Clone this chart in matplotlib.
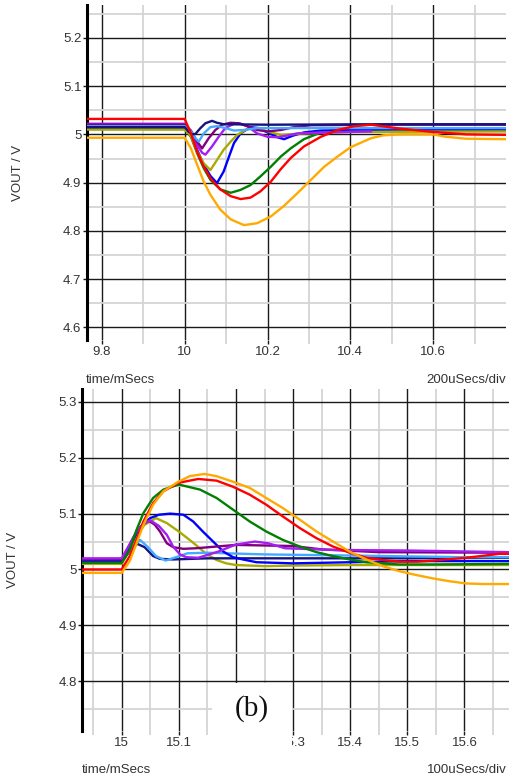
import matplotlib
matplotlib.use("Agg")
import matplotlib.pyplot as plt
from matplotlib.patches import Rectangle
from matplotlib.ticker import MultipleLocator, FormatStrFormatter

# ---------------- panel (a): load step, 9.764 .. 10.776 ms ----------------
a_navy_t = [9.764, 10.0, 10.009, 10.018, 10.026, 10.038, 10.05, 10.066, 10.078, 10.094, 10.2, 10.5, 10.776]
a_navy_v = [5.015, 5.015, 5.006, 5.000, 5.001, 5.013, 5.023, 5.028, 5.024, 5.021, 5.020, 5.021, 5.021]

a_lblue_t = [9.764, 10.0, 10.015, 10.026, 10.034, 10.046, 10.062, 10.078, 10.098, 10.119, 10.143, 10.175, 10.4, 10.776]
a_lblue_v = [5.017, 5.017, 5.006, 4.992, 4.985, 5.002, 5.015, 5.017, 5.013, 5.008, 5.009, 5.013, 5.013, 5.013]

a_purple_t = [9.764, 10.0, 10.015, 10.03, 10.042, 10.058, 10.074, 10.09, 10.111, 10.131, 10.151, 10.175, 10.2, 10.232, 10.264, 10.305, 10.5, 10.776]
a_purple_v = [5.020, 5.020, 5.008, 4.985, 4.971, 4.992, 5.009, 5.020, 5.024, 5.023, 5.017, 5.009, 5.006, 5.009, 5.015, 5.019, 5.020, 5.020]

a_violet_t = [9.764, 10.0, 10.015, 10.03, 10.042, 10.05, 10.066, 10.082, 10.098, 10.119, 10.135, 10.151, 10.175, 10.2, 10.224, 10.244, 10.272, 10.35, 10.45]
a_violet_v = [5.022, 5.022, 5.002, 4.978, 4.962, 4.958, 4.975, 4.995, 5.013, 5.022, 5.022, 5.017, 5.002, 4.995, 4.994, 4.997, 5.002, 5.004, 5.006]

a_olive_t = [9.764, 10.0, 10.015, 10.03, 10.046, 10.062, 10.078, 10.094, 10.111, 10.127, 10.151, 10.175, 10.2, 10.232, 10.256, 10.288, 10.4, 10.776]
a_olive_v = [5.010, 5.010, 4.997, 4.964, 4.940, 4.926, 4.947, 4.968, 4.985, 4.999, 5.011, 5.013, 5.006, 4.999, 5.000, 5.002, 5.005, 5.006]

a_blue_t = [9.764, 10.0, 10.015, 10.03, 10.046, 10.062, 10.078, 10.094, 10.107, 10.119, 10.135, 10.159, 10.179, 10.2, 10.224, 10.24, 10.26, 10.288, 10.329, 10.5, 10.776]
a_blue_v = [5.014, 5.014, 5.000, 4.968, 4.937, 4.914, 4.899, 4.923, 4.954, 4.982, 5.002, 5.015, 5.013, 5.004, 4.994, 4.990, 4.997, 5.004, 5.008, 5.010, 5.010]

a_green_t = [9.764, 10.0, 10.015, 10.03, 10.046, 10.062, 10.086, 10.111, 10.135, 10.159, 10.183, 10.208, 10.232, 10.256, 10.288, 10.329, 10.369, 10.45, 10.776]
a_green_v = [5.011, 5.011, 4.995, 4.961, 4.930, 4.906, 4.886, 4.879, 4.885, 4.895, 4.913, 4.933, 4.954, 4.971, 4.990, 5.004, 5.009, 5.010, 5.010]

a_red_t = [9.764, 10.0, 10.015, 10.03, 10.046, 10.062, 10.086, 10.111, 10.135, 10.159, 10.183, 10.208, 10.232, 10.256, 10.288, 10.329, 10.369, 10.41, 10.45, 10.52, 10.6, 10.68, 10.776]
a_red_v = [5.032, 5.032, 5.002, 4.964, 4.933, 4.909, 4.886, 4.872, 4.866, 4.869, 4.882, 4.902, 4.928, 4.951, 4.975, 4.995, 5.009, 5.017, 5.020, 5.012, 5.005, 5.000, 4.999]

a_orange_t = [9.764, 10.0, 10.015, 10.03, 10.046, 10.062, 10.086, 10.111, 10.143, 10.175, 10.208, 10.24, 10.272, 10.305, 10.337, 10.369, 10.4, 10.434, 10.45, 10.48, 10.52, 10.6, 10.63, 10.68, 10.776]
a_orange_v = [4.993, 4.993, 4.971, 4.937, 4.902, 4.875, 4.844, 4.824, 4.812, 4.816, 4.830, 4.852, 4.878, 4.906, 4.933, 4.954, 4.973, 4.986, 4.992, 4.998, 5.000, 5.000, 4.995, 4.991, 4.990]

# ---------------- panel (b): load release, 14.931 .. 15.678 ms ----------------
b_navy_t = [14.931, 15.0, 15.012, 15.027, 15.04, 15.055, 15.067, 15.09, 15.15, 15.3, 15.5, 15.678]
b_navy_v = [5.015, 5.015, 5.030, 5.046, 5.040, 5.024, 5.019, 5.018, 5.020, 5.020, 5.020, 5.021]

b_lblue_t = [14.931, 15.0, 15.015, 15.032, 15.045, 15.06, 15.077, 15.095, 15.115, 15.15, 15.25, 15.4, 15.6, 15.678]
b_lblue_v = [5.016, 5.016, 5.035, 5.053, 5.041, 5.024, 5.016, 5.022, 5.029, 5.030, 5.027, 5.025, 5.022, 5.022]

b_purple_t = [14.931, 15.0, 15.014, 15.026, 15.038, 15.048, 15.058, 15.067, 15.079, 15.09, 15.108, 15.13, 15.2, 15.3, 15.35, 15.45, 15.678]
b_purple_v = [5.018, 5.018, 5.045, 5.068, 5.082, 5.087, 5.080, 5.068, 5.047, 5.040, 5.037, 5.038, 5.044, 5.042, 5.036, 5.031, 5.030]

b_violet_t = [14.931, 15.0, 15.014, 15.026, 15.038, 15.05, 15.065, 15.079, 15.09, 15.102, 15.113, 15.134, 15.169, 15.198, 15.233, 15.256, 15.286, 15.315, 15.373, 15.5, 15.678]
b_violet_v = [5.020, 5.020, 5.045, 5.068, 5.082, 5.088, 5.078, 5.062, 5.041, 5.027, 5.022, 5.021, 5.032, 5.044, 5.050, 5.047, 5.038, 5.037, 5.035, 5.034, 5.031]

b_olive_t = [14.931, 15.0, 15.014, 15.026, 15.04, 15.06, 15.079, 15.1, 15.125, 15.148, 15.166, 15.183, 15.2, 15.25, 15.3, 15.4, 15.678]
b_olive_v = [5.010, 5.010, 5.035, 5.060, 5.080, 5.092, 5.083, 5.068, 5.048, 5.028, 5.017, 5.011, 5.008, 5.006, 5.007, 5.008, 5.008]

b_blue_t = [14.931, 15.0, 15.014, 15.026, 15.038, 15.05, 15.065, 15.085, 15.108, 15.125, 15.142, 15.16, 15.178, 15.195, 15.212, 15.236, 15.3, 15.4, 15.5, 15.678]
b_blue_v = [5.015, 5.015, 5.040, 5.065, 5.082, 5.092, 5.098, 5.100, 5.098, 5.086, 5.068, 5.050, 5.032, 5.022, 5.018, 5.013, 5.011, 5.013, 5.015, 5.015]

b_green_t = [14.931, 15.0, 15.014, 15.026, 15.038, 15.055, 15.073, 15.1, 15.137, 15.166, 15.195, 15.224, 15.253, 15.282, 15.312, 15.341, 15.37, 15.399, 15.428, 15.486, 15.545, 15.678]
b_green_v = [5.012, 5.012, 5.035, 5.071, 5.101, 5.128, 5.143, 5.152, 5.143, 5.128, 5.107, 5.086, 5.068, 5.053, 5.041, 5.031, 5.024, 5.018, 5.013, 5.009, 5.009, 5.010]

b_red_t = [14.931, 15.0, 15.014, 15.026, 15.038, 15.055, 15.073, 15.099, 15.134, 15.166, 15.195, 15.224, 15.253, 15.282, 15.312, 15.341, 15.37, 15.399, 15.428, 15.457, 15.486, 15.516, 15.545, 15.603, 15.661, 15.678]
b_red_v = [5.000, 5.000, 5.024, 5.053, 5.086, 5.119, 5.140, 5.155, 5.162, 5.159, 5.148, 5.134, 5.116, 5.095, 5.074, 5.056, 5.041, 5.030, 5.021, 5.017, 5.014, 5.014, 5.016, 5.021, 5.028, 5.028]

b_orange_t = [14.931, 15.0, 15.014, 15.026, 15.038, 15.055, 15.073, 15.099, 15.119, 15.145, 15.166, 15.195, 15.224, 15.253, 15.282, 15.312, 15.341, 15.37, 15.399, 15.428, 15.457, 15.486, 15.516, 15.545, 15.574, 15.603, 15.632, 15.678]
b_orange_v = [4.994, 4.994, 5.015, 5.047, 5.080, 5.116, 5.140, 5.157, 5.167, 5.171, 5.167, 5.157, 5.146, 5.128, 5.110, 5.089, 5.068, 5.050, 5.032, 5.018, 5.006, 4.997, 4.990, 4.984, 4.979, 4.975, 4.974, 4.974]

colors = {
    "navy": "#14147e", "lblue": "#45aaff", "purple": "#800080", "violet": "#a41ef0",
    "olive": "#aaaa00", "blue": "#0000ff", "green": "#008000", "red": "#ff0000",
    "orange": "#ffaa00",
}

top_series = [
    ("green", a_green_t, a_green_v), ("blue", a_blue_t, a_blue_v),
    ("olive", a_olive_t, a_olive_v), ("violet", a_violet_t, a_violet_v),
    ("purple", a_purple_t, a_purple_v), ("lblue", a_lblue_t, a_lblue_v),
    ("navy", a_navy_t, a_navy_v), ("orange", a_orange_t, a_orange_v),
    ("red", a_red_t, a_red_v),
]
bot_series = [
    ("olive", b_olive_t, b_olive_v), ("navy", b_navy_t, b_navy_v),
    ("lblue", b_lblue_t, b_lblue_v), ("blue", b_blue_t, b_blue_v),
    ("purple", b_purple_t, b_purple_v), ("violet", b_violet_t, b_violet_v),
    ("green", b_green_t, b_green_v), ("red", b_red_t, b_red_v),
    ("orange", b_orange_t, b_orange_v),
]

W, H = 509, 781
plt.rcParams['font.family'] = ['Liberation Sans', 'DejaVu Sans']
fig = plt.figure(figsize=(W / 100, H / 100), dpi=100)
fig.patch.set_facecolor("white")

def px_rect(l, t, r, b):
    return [l / W, 1 - b / H, (r - l) / W, (b - t) / H]

TXT = "#333333"

def style(ax, xlim, ylim, xmaj, xmin, ymaj, ymin):
    ax.set_xlim(*xlim)
    ax.set_ylim(*ylim)
    ax.xaxis.set_major_locator(MultipleLocator(xmaj))
    ax.xaxis.set_minor_locator(MultipleLocator(xmin))
    ax.yaxis.set_major_locator(MultipleLocator(ymaj))
    ax.yaxis.set_minor_locator(MultipleLocator(ymin))
    ax.xaxis.set_major_formatter(FormatStrFormatter('%g'))
    ax.yaxis.set_major_formatter(FormatStrFormatter('%g'))
    ax.grid(True, which='minor', color='#d4d4d4', lw=1.3, zorder=0)
    ax.grid(True, which='major', color='#1a1a1a', lw=1.0, zorder=0.5)
    ax.set_axisbelow(True)
    for s in ('top', 'right', 'bottom'):
        ax.spines[s].set_visible(False)
    ax.spines['left'].set_linewidth(2.2)
    ax.spines['left'].set_color('black')
    ax.tick_params(which='major', length=3, width=1.0, color='#1a1a1a',
                   labelsize=9.5, labelcolor=TXT, pad=1)
    ax.tick_params(which='minor', length=3, width=1.3, color='#d4d4d4')
    ax.tick_params(axis='y', which='minor', length=0)

# top panel
ax1 = fig.add_axes(px_rect(87, 5, 506, 340))
for name, t, v in top_series:
    ax1.plot(t, v, color=colors[name], lw=1.7, zorder=3, solid_joinstyle='round')
style(ax1, (9.764, 10.776), (4.574, 5.268), 0.2, 0.1, 0.1, 0.05)

# bottom panel
ax2 = fig.add_axes(px_rect(82.3, 389, 509, 731))
for name, t, v in bot_series:
    ax2.plot(t, v, color=colors[name], lw=1.7, zorder=3, solid_joinstyle='round')
style(ax2, (14.931, 15.678), (4.711, 5.323), 0.1, 0.05, 0.1, 0.05)

def ftext(x, y, s, **kw):
    fig.text(x / W, 1 - y / H, s, **kw)

ftext(18, 173, "VOUT / V", rotation=90, ha='center', va='center', fontsize=9.5, color=TXT)
ftext(13, 560, "VOUT / V", rotation=90, ha='center', va='center', fontsize=9.5, color=TXT)
ftext(86, 380, "time/mSecs", ha='left', va='center', fontsize=9.5, color=TXT)
ftext(506, 380, "200uSecs/div", ha='right', va='center', fontsize=9.5, color=TXT)
ftext(82, 770, "time/mSecs", ha='left', va='center', fontsize=9.5, color=TXT)
ftext(507, 770, "100uSecs/div", ha='right', va='center', fontsize=9.5, color=TXT)

# white label box with "(b)"
box = Rectangle((212 / W, 1 - 748 / H), (291.5 - 212) / W, (748 - 682.7) / H,
                transform=fig.transFigure, facecolor='white', edgecolor='none', zorder=10)
fig.add_artist(box)
ftext(251.7, 709, "(b)", ha='center', va='center', fontsize=21,
      family=['Liberation Serif', 'DejaVu Serif'], color='#111111', zorder=11)

fig.savefig("out.png", dpi=100, facecolor='white')
